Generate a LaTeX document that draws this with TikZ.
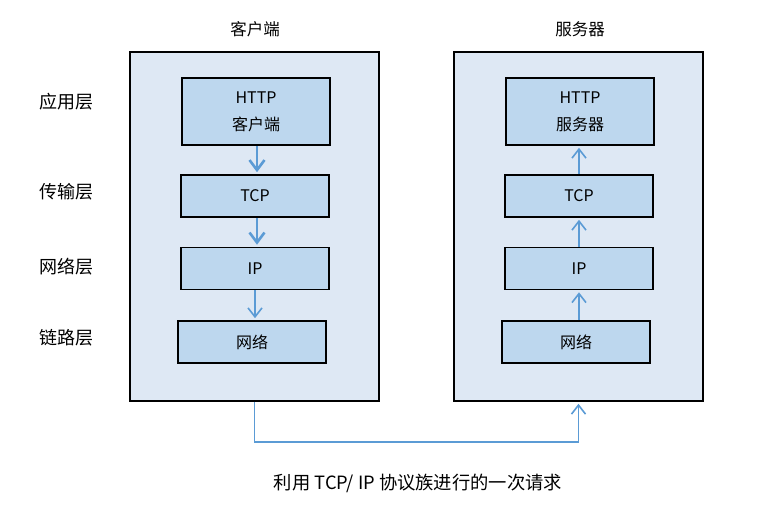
\documentclass[tikz,border=0pt]{standalone}
\usepackage{fontspec}
\setmainfont{Noto Sans CJK SC}
\usepackage{tikz}
\usetikzlibrary{arrows.meta}
\definecolor{outerblue}{HTML}{DEE8F4}
\definecolor{innerblue}{HTML}{BDD7EE}
\definecolor{linkblue}{HTML}{5B9BD5}
\tikzset{
	host/.style={
		draw, line width=1.6pt,
		fill=outerblue,
		minimum width=249pt, minimum height=349pt},
	layer/.style={
		draw, line width=1.6pt,
		fill=innerblue,
		minimum width=148pt, minimum height=42pt,
		align=center,
		font=\fontsize{16}{27}\selectfont},
	label/.style={font=\fontsize{16.5}{18}\selectfont},
	side/.style={font=\fontsize{18}{20}\selectfont},
	flow/.style={
		draw=linkblue, line width=2.6pt,
		-{Straight Barb[length=10pt,width=15pt]},
		shorten >=2pt},
	thin flow/.style={flow, line width=1.6pt,
		-{Straight Barb[length=9pt,width=14pt]}}
}
\begin{document}
\begin{tikzpicture}[x=1pt,y=-1pt]
	\useasboundingbox (0,0) rectangle (768,512);
	% hosts
	\node[host] (client) at (254.5,226.5) {};
	\node[host] (server) at (578.5,226.5) {};
	\node[label] (cname) at (255,29) {客户端};
	\node[label] (sname) at (580,29) {服务器};
	% layer names
	\node[side] (app) at (66,102) {应用层};
	\node[side] (trans) at (66,192) {传输层};
	\node[side] (net) at (66,267) {网络层};
	\node[side] (link) at (66,338) {链路层};
	% client stack
	\node[layer, minimum height=67pt] (cHTTP) at (256,111.5) {HTTP\\客户端};
	\node[layer] (cTCP) at (255,196) {TCP};
	\node[layer] (cIP) at (255,268.5) {IP};
	\node[layer] (cNet) at (252,342) {网络};
	% server stack
	\node[layer, minimum height=67pt] (sHTTP) at (580,111.5) {HTTP\\服务器};
	\node[layer] (sTCP) at (579,196) {TCP};
	\node[layer] (sIP) at (579,268.5) {IP};
	\node[layer] (sNet) at (576,342) {网络};
	% down the client
	\draw[flow] ([xshift=1pt]cHTTP.south) -- ([xshift=1pt]cHTTP.south |- cTCP.north);
	\draw[flow] ([xshift=2pt]cTCP.south) -- ([xshift=2pt]cTCP.south |- cIP.north);
	\draw[thin flow] (cIP.south) -- (cIP.south |- cNet.north);
	% up the server
	\draw[thin flow] (sTCP.north) -- (sTCP.north |- sHTTP.south);
	\draw[thin flow] (sIP.north) -- (sIP.north |- sTCP.south);
	\draw[thin flow] ([xshift=3pt]sNet.north) -- ([xshift=3pt]sNet.north |- sIP.south);
	% request
	\draw[thin flow] (client.south) -- ++(0,40) -| (server.south);
	\node[font=\fontsize{18.3}{20}\selectfont] (caption) at (418,483) {利用 TCP/ IP 协议族进行的一次请求};
\end{tikzpicture}
\end{document}
